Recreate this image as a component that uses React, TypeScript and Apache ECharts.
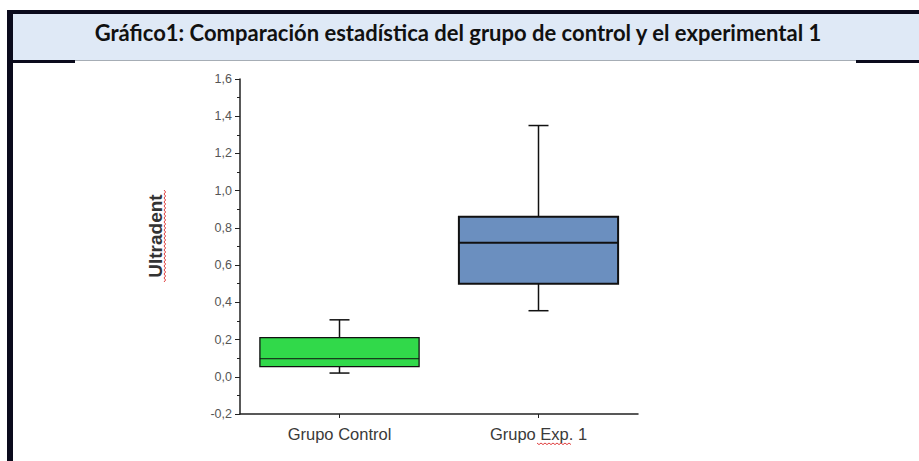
import React, { useEffect, useRef } from "react";
import * as echarts from "echarts";

const TITLE = "Gráfico1: Comparación estadística del grupo de control y el experimental 1";
const Y_NAME = "Ultradent";
const categories = ["Grupo Control", "Grupo Exp. 1"];
// [min, q1, median, q3, max]
const controlStats = [0.02, 0.055, 0.097, 0.21, 0.306];
const expStats = [0.355, 0.5, 0.72, 0.86, 1.35];
const boxColors = ["#31d94a", "#6b8fbf"];
const boxBorderWidths = [1.3, 2];

function squiggle(x0: number, y0: number, len: number, vertical: boolean) {
  const pts: number[][] = [];
  const step = 2;
  for (let i = 0; i <= len / step; i++) {
    const off = i % 2 === 0 ? 0 : 1.6;
    pts.push(vertical ? [x0 + off, y0 + i * step] : [x0 + i * step, y0 + off]);
  }
  return pts;
}

export default function App() {
  const ref = useRef<HTMLDivElement>(null);
  useEffect(() => {
    if (!ref.current) return;
    const chart = echarts.init(ref.current, undefined, { renderer: "svg" });
    const rows = [controlStats, expStats].map((s, i) => [i, ...s]);
    chart.setOption({
      animation: false,
      backgroundColor: "#ffffff",
      grid: { left: 240, right: 281, top: 79, bottom: 47, containLabel: false },
      xAxis: {
        type: "category",
        data: categories,
        axisLine: { onZero: false, lineStyle: { color: "#222", width: 1.5 } },
        axisTick: { show: true, alignWithLabel: true, length: 4, lineStyle: { color: "#222" } },
        axisLabel: {
          margin: 11,
          fontSize: 16.5,
          color: "#3a3a3a",
          fontFamily: "'Liberation Sans', Arial, sans-serif",
        },
      },
      yAxis: {
        type: "value",
        min: -0.2,
        max: 1.6,
        interval: 0.2,
        splitLine: { show: false },
        axisLine: { show: true, lineStyle: { color: "#222", width: 1.5 } },
        axisTick: { show: true, length: 5, lineStyle: { color: "#222" } },
        minorTick: { show: true, splitNumber: 2, length: 3, lineStyle: { color: "#222" } },
        axisLabel: {
          margin: 8,
          fontSize: 12.5,
          color: "#555",
          fontFamily: "'Liberation Sans Narrow', 'Arial Narrow', 'Liberation Sans', sans-serif",
          formatter: (v: number) => v.toFixed(1).replace(".", ","),
        },
      },
      series: [
        {
          type: "custom",
          data: rows,
          encode: { x: 0, y: [1, 2, 3, 4, 5] },
          renderItem: (params: any, api: any) => {
            const idx = api.value(0);
            const vals = [1, 2, 3, 4, 5].map((k) => api.value(k));
            const cx = api.coord([idx, 0])[0];
            const ys = vals.map((v) => api.coord([idx, v])[1]);
            const bw = api.size([1, 0])[0] * 0.8;
            const cap = 10;
            const lw = boxBorderWidths[idx];
            const stroke = "#111";
            return {
              type: "group",
              children: [
                { type: "line", shape: { x1: cx, y1: ys[0], x2: cx, y2: ys[1] }, style: { stroke, lineWidth: 1.5 } },
                { type: "line", shape: { x1: cx, y1: ys[3], x2: cx, y2: ys[4] }, style: { stroke, lineWidth: 1.5 } },
                { type: "line", shape: { x1: cx - cap, y1: ys[0], x2: cx + cap, y2: ys[0] }, style: { stroke, lineWidth: 1.5 } },
                { type: "line", shape: { x1: cx - cap, y1: ys[4], x2: cx + cap, y2: ys[4] }, style: { stroke, lineWidth: 1.5 } },
                {
                  type: "rect",
                  shape: { x: cx - bw / 2, y: ys[3], width: bw, height: ys[1] - ys[3] },
                  style: { fill: boxColors[idx], stroke, lineWidth: lw },
                },
                {
                  type: "line",
                  shape: { x1: cx - bw / 2, y1: ys[2], x2: cx + bw / 2, y2: ys[2] },
                  style: { stroke, lineWidth: idx === 0 ? 1 : 2 },
                },
              ],
            };
          },
        },
      ],
      graphic: [
        { type: "rect", shape: { x: 13, y: 14, width: 906, height: 46 }, style: { fill: "#dfe9f6" }, z: -1 },
        { type: "rect", shape: { x: 7, y: 10, width: 912, height: 4 }, style: { fill: "#0b0b1c" } },
        { type: "rect", shape: { x: 7, y: 10, width: 6, height: 451 }, style: { fill: "#0b0b1c" } },
        { type: "rect", shape: { x: 13, y: 60, width: 906, height: 1 }, style: { fill: "#a6adb5" } },
        { type: "rect", shape: { x: 13, y: 60, width: 62, height: 3 }, style: { fill: "#0b0b1c" } },
        { type: "rect", shape: { x: 856, y: 60, width: 63, height: 3 }, style: { fill: "#0b0b1c" } },
        {
          type: "text",
          x: 458,
          y: 32,
          style: {
            text: TITLE,
            fontFamily: "Lato, 'Open Sans', sans-serif",
            fontWeight: "bold",
            fontSize: 22,
            fill: "#111",
            textAlign: "center",
            textVerticalAlign: "middle",
          },
        },
        {
          type: "text",
          x: 155,
          y: 236,
          rotation: Math.PI / 2,
          style: {
            text: Y_NAME,
            fontFamily: "'Liberation Sans', Arial, sans-serif",
            fontWeight: "bold",
            fontSize: 19,
            fill: "#333",
            textAlign: "center",
            textVerticalAlign: "middle",
          },
        },
        {
          type: "polyline",
          shape: { points: squiggle(164, 190, 92, true) },
          style: { stroke: "#e04040", lineWidth: 1, fill: null },
        },
        {
          type: "polyline",
          shape: { points: squiggle(537, 443, 34, false) },
          style: { stroke: "#e04040", lineWidth: 1, fill: null },
        },
      ],
    });
    return () => chart.dispose();
  }, []);
  return (
    <div
      ref={ref}
      style={{ position: "fixed", left: 0, top: 0, width: 919, height: 461 }}
    />
  );
}
